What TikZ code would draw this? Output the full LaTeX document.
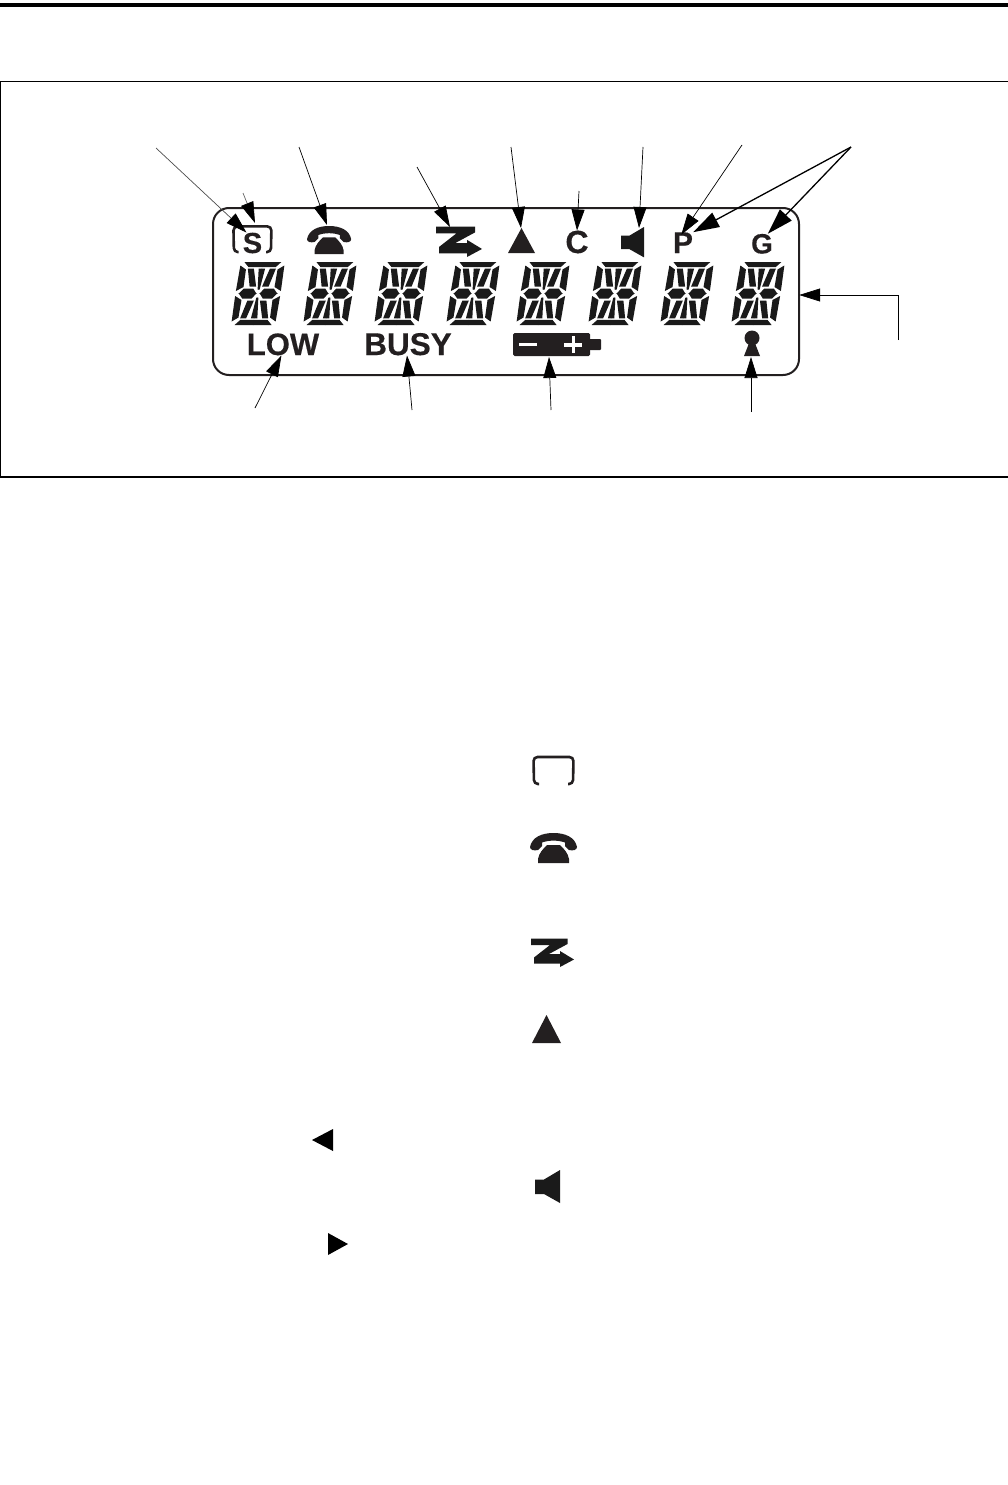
\documentclass[tikz,border=0pt]{standalone}
\usepackage{fontspec}
\setmainfont{Liberation Sans}[BoldFeatures={FakeBold=0.4}]
\usepackage{xcolor}
\usetikzlibrary{arrows.meta,positioning}

\definecolor{lcdink}{HTML}{231F20}
\definecolor{segink}{HTML}{1A1A1A}

\tikzset{
  segdigit/.pic={
    \begin{scope}[xslant=0.156]
      \foreach \sx/\sy in {1/1,-1/1,1/-1,-1/-1} {
        \begin{scope}[xscale=\sx,yscale=\sy]
          \fill[segink] (-18.5,-31.5) -- (0.3,-31.5) -- (0.3,-26.3) -- (-13.5,-26.3) -- cycle;
          \fill[segink] (-22,-28) -- (-15.8,-24) -- (-15.5,-6.5) -- (-22.5,-2.5) -- cycle;
          \fill[segink] (-14,-24.8) -- (-8,-24.8) -- (-3,-7) -- (-9.5,-7) -- cycle;
          \fill[segink] (-3.2,-24.8) -- (0.3,-24.8) -- (0.3,-4) -- (-1,-4) -- cycle;
          \fill[segink] (-19.5,0.3) -- (-15,-5) -- (-5.5,-5) -- (-1.5,0.3) -- cycle;
        \end{scope}
      }
    \end{scope}
  },
  bracketicon/.pic={
    \draw[lcdink, line width=2.6pt, rounded corners=4pt]
      (7,28.5) -- (2,28.5) -- (1.5,1.5) -- (41.5,1.5) -- (41,28.5) -- (36,28.5);
  },
  phoneicon/.pic={
    \fill[lcdink] (0,14) .. controls (2,4) and (12,0) .. (23.5,0)
      .. controls (35,0) and (45,4) .. (47,14)
      .. controls (47,17) and (43,18) .. (39,17) -- (35,13) -- (35,9.5)
      .. controls (28,7) and (19,7) .. (12,9.5) -- (12,13) -- (8,17)
      .. controls (4,18) and (0,17) .. (0,14) -- cycle;
    \fill[lcdink] (8,30) -- (8,26) .. controls (9,20) and (13,16) .. (17,12)
      -- (30,12) .. controls (34,16) and (38,20) .. (39,26) -- (39,30) -- cycle;
  },
  zicon/.pic={
    \fill[segink] (0,0) -- (36.5,0) -- (36.5,5.5) -- (18,15.5) -- (29,15.5) -- (29,12.5)
      -- (43,21) -- (29,28.5) -- (29,25) -- (3,25) -- (3,19) -- (19,6.5) -- (0,6.5) -- cycle;
  },
  speakericon/.pic={
    \fill[segink] (0,9.5) -- (9,9.5) -- (25,0) -- (25,33) -- (9,24) -- (0,24) -- cycle;
  },
}

\begin{document}
\begin{tikzpicture}[
  x=1pt, y=-1pt,
  lcdtext/.style={font=\bfseries\fontsize{#1}{#1}\selectfont, text=lcdink, inner sep=0pt, anchor=base},
  thinline/.style={-{Triangle[length=21pt,width=13pt,black]}, line width=0.7pt, black},
  thickline/.style={-{Triangle[length=26pt,width=16pt,black]}, line width=1.3pt, black},
  frameline/.style={line width=1.2pt, black},
]
\useasboundingbox (0,0) rectangle (1008,1485);

% Page rule and frame
\fill[black] (0,3.2) rectangle (1008,7.2);
\draw[frameline] (1008,81.8) -- (0.6,81.8) -- (0.6,477) -- (1008,477);

% Display outline
\draw[lcdink, line width=2pt, rounded corners=16pt] (213,208) rectangle (799,375);
\node[minimum width=586pt, minimum height=167pt, inner sep=0pt] (panel) at (506,291.5) {};

% Segment digits
\foreach \dx in {258,330,401,473,543,615,687,758} {
  \pic at (\dx,293.5) {segdigit};
}

% Top row icons
\pic[scale=0.95] at (232,225) {bracketicon};
\node[lcdtext=29] (slabel) at (252.5,253) {S};
\pic[scale=0.94] at (307,226) {phoneicon};
\pic[scale=1.07] at (436,226.5) {zicon};
\fill[lcdink] (508,253) -- (521.5,228) -- (535,253) -- cycle;
\node[lcdtext=32] (clabel) at (577,253) {C};
\pic[scale=0.92] at (621,227) {speakericon};
\node[lcdtext=30] (plabel) at (683,253) {P};
\node[lcdtext=28] (glabel) at (762,253.5) {G};

% Bottom row icons
\node[lcdtext=31] (lowlabel) at (283,355) {LOW};
\node[lcdtext=31.5] (busylabel) at (408,355) {BUSY};
\fill[lcdink, rounded corners=1.5pt] (513,333) rectangle (590,356);
\fill[lcdink, rounded corners=1pt] (589,339) rectangle (601,350);
\fill[white] (519,343) rectangle (537,346);
\fill[white] (564,343) rectangle (582,346.5);
\fill[white] (571.5,336) rectangle (575,353);
\fill[lcdink] (752,338) circle (7.5);
\fill[lcdink] (749.5,342) -- (754.5,342) -- (760,356) -- (744,356) -- cycle;

% Free ends and tips of the callouts
\coordinate (sfar) at (156,148);
\coordinate (snear) at (243,193);
\coordinate (phonefar) at (299,147);
\coordinate (zfar) at (417,167);
\coordinate (trifar) at (511,147);
\coordinate (cfar) at (579,191);
\coordinate (spkfar) at (643,147);
\coordinate (pfar) at (742,145);
\coordinate (pgfar) at (851,147);
\coordinate (lowfar) at (255,408);
\coordinate (busyfar) at (412,410);
\coordinate (batfar) at (551,410);
\coordinate (keyfar) at (751,412);
\coordinate (segfoot) at (898,340);
\coordinate (segbend) at (898,295);
\coordinate (brackettip) at (255,223);
\coordinate (phonetip) at (327,225);
\coordinate (ztip) at (450,227);
\coordinate (tritip) at (521,228);
\coordinate (spktip) at (639,228);
\coordinate (battip) at (549,357);
\coordinate (keytip) at (751,357);

% Callouts
\draw[thinline, black!70] (sfar) -- (slabel.120);
\draw[thinline, black!60] (snear) -- (brackettip);
\draw[thinline] (phonefar) -- (phonetip);
\draw[thinline] (zfar) -- (ztip);
\draw[thinline] (trifar) -- (tritip);
\draw[thinline] (cfar) -- (clabel.north);
\draw[thinline] (spkfar) -- (spktip);
\draw[thinline, shorten >=-3pt] (pfar) -- (plabel.north);
\draw[thickline] (pgfar) -- (plabel.north east);
\draw[thickline] (pgfar) -- (glabel.60);
\draw[thinline] (lowfar) -- (lowlabel.262);
\draw[thinline] (busyfar) -- (busylabel.265);
\draw[thinline] (batfar) -- (battip);
\draw[thinline] (keyfar) -- (keytip);
\draw[thinline] (segfoot) -- (segbend) -- (panel.east |- segbend);

% Legend icons
\pic at (532,755.5) {bracketicon};
\pic at (530,833) {phoneicon};
\pic at (531,938.5) {zicon};
\fill[lcdink] (532,1043) -- (546.5,1015) -- (561,1043) -- cycle;
\fill[black] (333,1129) -- (312,1140) -- (333,1151) -- cycle;
\pic at (535,1170) {speakericon};
\fill[black] (328,1233) -- (348,1244) -- (328,1255) -- cycle;
\end{tikzpicture}
\end{document}
